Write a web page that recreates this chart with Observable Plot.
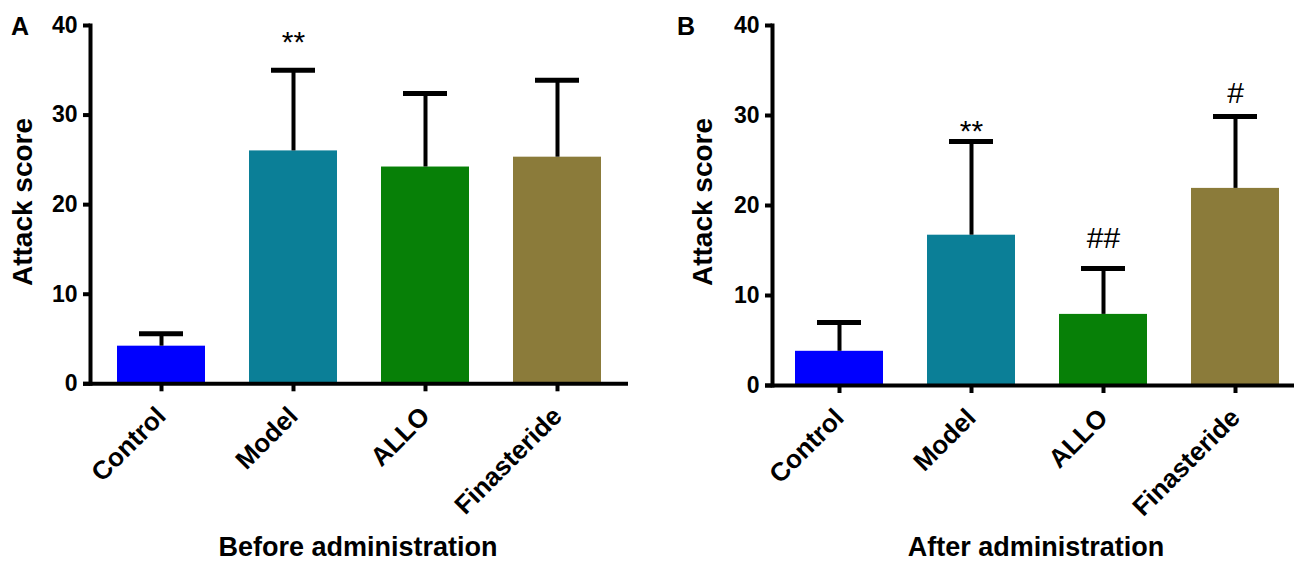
<!DOCTYPE html>
<html>
<head>
<meta charset="utf-8">
<script src="https://cdn.jsdelivr.net/npm/d3@7"></script>
<script src="https://cdn.jsdelivr.net/npm/@observablehq/plot@0.6"></script>
<style>
  html, body { margin: 0; padding: 0; background: #fff; overflow: hidden; }
  #wrap { position: relative; width: 1294px; height: 563px; overflow: hidden; font-family: "Liberation Sans", Arial, sans-serif; color: #000; }
  .panel { position: absolute; top: 0; }
  .panel svg { max-width: none !important; }
  .lbl { position: absolute; font-weight: bold; white-space: nowrap; line-height: 1; }
</style>
</head>
<body>
<div id="wrap">
  <div id="pA" class="panel" style="left:0px; width:647px;"></div>
  <div id="pB" class="panel" style="left:647px; width:660px;"></div>
  <div class="lbl" style="left:11px; top:14px; font-size:25px;">A</div>
  <div class="lbl" style="left:677px; top:14px; font-size:25px;">B</div>
  <div class="lbl" style="left:23px; top:202px; font-size:28px; transform: translate(-50%,-50%) rotate(-90deg);">Attack score</div>
  <div class="lbl" style="left:703px; top:202px; font-size:28px; transform: translate(-50%,-50%) rotate(-90deg);">Attack score</div>
  <div class="lbl" style="left:358px; top:547px; font-size:27px; transform: translate(-50%,-50%);">Before administration</div>
  <div class="lbl" style="left:1036px; top:547px; font-size:27px; transform: translate(-50%,-50%);">After administration</div>
</div>
<script>
// ---- data ----
const categories = ["Control", "Model", "ALLO", "Finasteride"];
const barColors = ["#0000ff", "#0b7f97", "#078007", "#8b7b3a"];
const yTicks = [0, 10, 20, 30, 40];

const beforeMean  = [4.2, 26.0, 24.2, 25.3];
const beforeUpper = [5.6, 35.0, 32.4, 33.9];
const beforeMarks = ["", "**", "", ""];
const beforeMarkY = [null, 38.1, null, null];

const afterMean  = [3.8, 16.7, 7.9, 21.9];
const afterUpper = [7.0, 27.1, 13.0, 29.9];
const afterMarks = ["", "**", "##", "#"];
const afterMarkY = [null, 28.2, 16.3, 32.5];

function rows(mean, upper, marks, markY) {
  return categories.map((c, i) => ({cat: c, mean: mean[i], upper: upper[i], mark: marks[i], markY: markY[i]}));
}

function panel(data, width, marginLeft, marginRight, marginBottom, paddingOuter) {
  const ann = data.filter(d => d.mark);
  return Plot.plot({
    width, height: 563,
    marginLeft, marginRight, marginTop: 25, marginBottom,
    style: {fontFamily: '"Liberation Sans", Arial, sans-serif', fontWeight: "bold", color: "#000", background: "transparent", overflow: "visible", maxWidth: "none"},
    x: {domain: categories, paddingInner: 0.334, paddingOuter, label: null},
    y: {domain: [0, 40], label: null},
    color: {domain: categories, range: barColors},
    marks: [
      Plot.barY(data, {x: "cat", y: "mean", fill: "cat"}),
      Plot.ruleX(data, {x: "cat", y1: "mean", y2: "upper", stroke: "#000", strokeWidth: 4}),
      Plot.tickY(data, {x: "cat", y: "upper", stroke: "#000", strokeWidth: 5, inset: 22}),
      Plot.text(ann, {x: "cat", y: "markY", text: "mark", fontSize: 30, fontWeight: "normal", fill: "#000"}),
      Plot.axisY({ticks: yTicks, tickSize: 7, tickPadding: 6, stroke: "#000", strokeWidth: 4, fontSize: 23, fontWeight: "bold", label: null}),
      Plot.axisX({tickSize: 8, tickRotate: -45, tickPadding: 20, stroke: "#000", strokeWidth: 4, fontSize: 26, fontWeight: "bold", label: null}),
      Plot.ruleY([0], {stroke: "#000", strokeWidth: 4, insetLeft: -7}),
      Plot.frame({anchor: "left", stroke: "#000", strokeWidth: 4})
    ]
  });
}

document.getElementById("pA").appendChild(
  panel(rows(beforeMean, beforeUpper, beforeMarks, beforeMarkY), 647, 90, 19, 563 - 383.3, 0.19));
document.getElementById("pB").appendChild(
  panel(rows(afterMean, afterUpper, afterMarks, afterMarkY), 660, 125, 6, 563 - 385, 0.167));
</script>
</body>
</html>
